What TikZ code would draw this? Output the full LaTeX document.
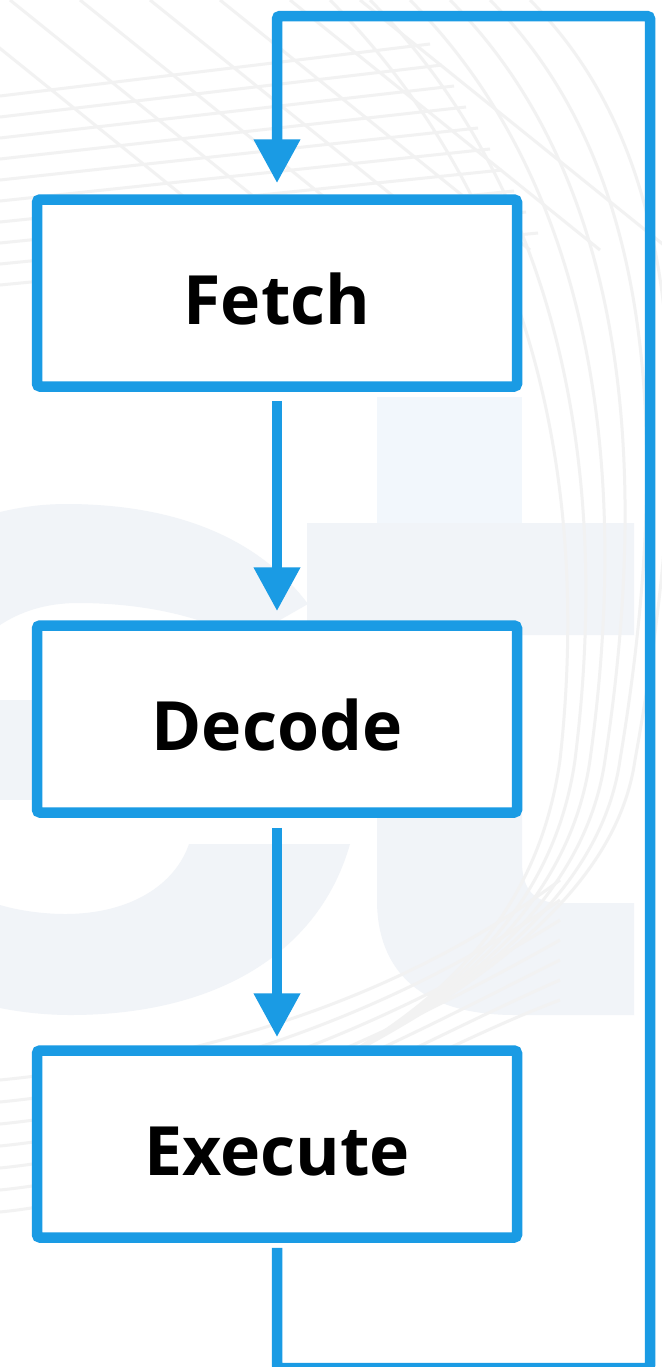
\documentclass[tikz,border=0pt]{standalone}
\usepackage{fontspec}
\setmainfont{Open Sans}
\usetikzlibrary{arrows.meta}
\definecolor{flowblue}{HTML}{1A9BE4}
\definecolor{wmfill}{HTML}{F1F4F8}
\definecolor{wmtop}{HTML}{F2F7FC}
\definecolor{wmline}{HTML}{F2F2F2}
\tikzset{
  stagebox/.style={draw=flowblue, line width=5.25pt, fill=white, rounded corners=1.5pt,
    minimum width=240pt, minimum height=93.5pt, inner sep=0pt,
    font=\fontsize{34}{38}\selectfont\bfseries, text height=31pt, text depth=0pt},
  flow/.style={draw=flowblue, line width=5.25pt,
    -{Triangle[length=22pt,width=22pt]}},
  loopline/.style={draw=flowblue, line width=5.25pt, rounded corners=1.5pt,
    -{Triangle[length=22pt,width=22pt]}},
  wmstroke/.style={draw=wmline, line width=1.5pt}
}
\begin{document}
\begin{tikzpicture}[x=0.5pt,y=-0.5pt]
  \useasboundingbox (0,0) rectangle (662,1367);
  \fill[white] (0,0) rectangle (662,1367);

  % faint background lettering
  \begin{scope}
    \clip (0,0) rectangle (662,1367);
    % letter t
    \fill[wmtop] (377,397) -- (522,397) -- (522,523) -- (377,523) -- cycle;
    \fill[wmfill] (307,523) -- (634,523) -- (634,635) -- (522,635) -- (522,862)
      .. controls (522,890) and (535,903) .. (560,903) -- (634,903) -- (634,1015)
      -- (515,1015) .. controls (420,1015) and (377,970) .. (377,900)
      -- (377,635) -- (307,635) -- cycle;
    % letter c (cut by the left edge)
    \fill[wmfill] (0,512) .. controls (30,505) and (50,504) .. (70,504)
      .. controls (180,505) and (260,540) .. (308,604)
      -- (245,640) .. controls (200,615) and (140,603) .. (78,603)
      .. controls (45,603) and (20,612) .. (0,625) -- cycle;
    \fill[wmfill] (0,700) rectangle (34,800);
    \fill[wmfill] (189,844) -- (350,844)
      .. controls (320,950) and (220,1015) .. (70,1015)
      .. controls (45,1015) and (20,1012) .. (0,1008) -- (0,905)
      .. controls (20,911) and (45,914) .. (65,914)
      .. controls (130,914) and (175,885) .. (189,844) -- cycle;
    % thin sweeping lines
    \foreach \i in {0,...,9} {
      \draw[wmstroke] (0,96+21*\i) -- (430+12*\i,44+21*\i);
    }
    \foreach \i in {0,...,6} {
      \draw[wmstroke] (-60+70*\i,0) -- (250+70*\i,250);
    }
    \foreach \i in {0,...,5} {
      \draw[wmstroke] (330+40*\i,0) .. controls (480+40*\i,150) and (600+20*\i,400)
        .. (560+15*\i,760) .. controls (540+15*\i,900) and (460,1000) .. (300,1080);
    }
    \foreach \i in {0,...,6} {
      \draw[wmstroke] (0,1080+22*\i) .. controls (200,1060+22*\i) and (400,1000+10*\i) .. (560,880+20*\i);
    }
  \end{scope}

  % stages
  \node[stagebox] (fetch)  at (277,293)  {Fetch};
  \node[stagebox] (decode) at (277,719)  {Decode};
  \node[stagebox] (exec)   at (277,1144) {Execute};

  % forward arrows
  \draw[flow, shorten <=4.5pt, shorten >=4.5pt] (fetch.south) -- (decode.north);
  \draw[flow, shorten <=5pt, shorten >=4pt] (decode.south) -- (exec.north);

  % return path back to Fetch
  \coordinate (lb) at (277,1368);
  \coordinate (rb) at (650,1368);
  \coordinate (rt) at (650,16);
  \coordinate (lt) at (277,16);
  \draw[loopline, shorten <=2.5pt, shorten >=5.5pt]
    (exec.south) -- (lb) -- (rb) -- (rt) -- (lt) -- (fetch.north);
\end{tikzpicture}
\end{document}
